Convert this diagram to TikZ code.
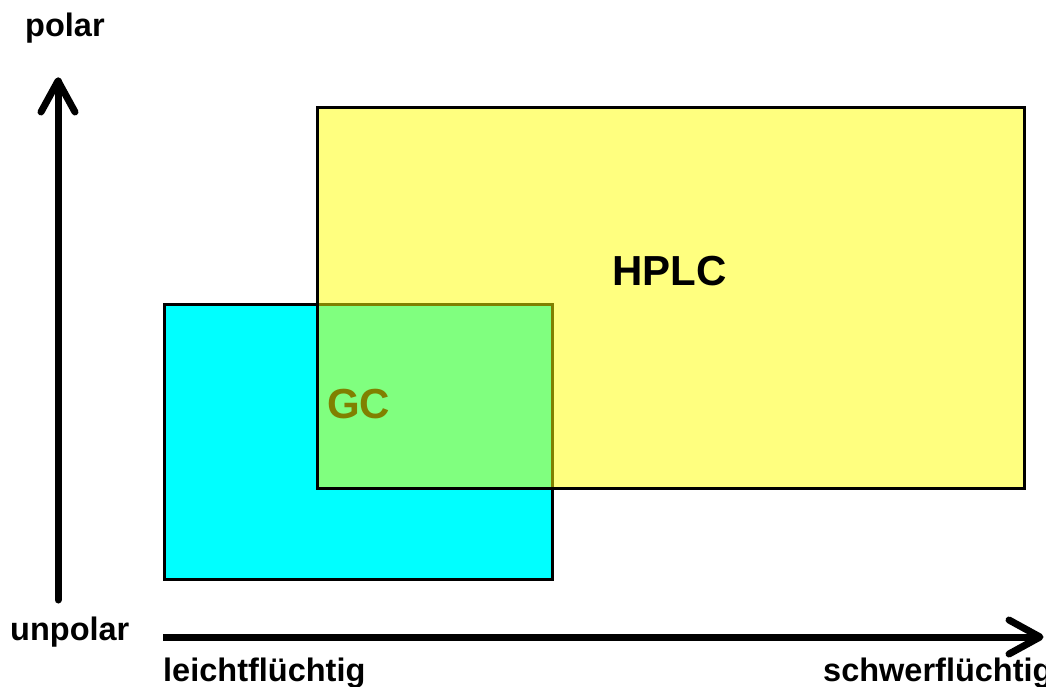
\documentclass[tikz,border=0pt]{standalone}
\usepackage{fontspec}
\setmainfont{Liberation Sans}
\definecolor{gccyan}{RGB}{0,255,255}
\definecolor{hpyellow}{RGB}{255,255,0}
\begin{document}
\begin{tikzpicture}[x=1pt,y=-1pt,
  lbl/.style={font=\fontsize{32.5}{32.5}\selectfont\bfseries, inner sep=0pt},
  big/.style={font=\fontsize{42}{42}\selectfont\bfseries, inner sep=0pt},
  axis/.style={line width=7pt, line cap=round, line join=round},
  region/.style={draw=black, line width=3pt}]
\useasboundingbox (0,0) rectangle (1046,687);
% GC region
\node[region, fill=gccyan, minimum width=388pt, minimum height=275pt, anchor=north west] (gc) at (163,303) {};
\node[big, anchor=base west, text=black] (gct) at (327,418) {GC};
% HPLC region (semi-transparent)
\node[region, fill=hpyellow, fill opacity=0.5, draw opacity=1, minimum width=707pt, minimum height=381pt, anchor=north west] (hplc) at (316,106) {};
\node[big, anchor=base west] (hplct) at (612,285) {HPLC};
% axes
\coordinate (v0) at (58,600);
\coordinate (v1) at (58,81);
\coordinate (vl) at (41,112);
\coordinate (vr) at (75,112);
\draw[axis] (v0) -- (v1);
\draw[axis] (vl) -- (v1) -- (vr);
\coordinate (h0) at (163,637);
\coordinate (h1) at (1040,637);
\coordinate (ht) at (1009,620);
\coordinate (hb) at (1009,654);
\draw[axis, line cap=butt] (h0) -- (h1);
\draw[axis] (ht) -- (h1) -- (hb);
% labels
\node[lbl, anchor=base west] (polar) at (25,37) {polar};
\node[lbl, anchor=base west] (unpolar) at (10,640) {unpolar};
\node[lbl, anchor=base west] (leicht) at (163,681) {leichtflüchtig};
\node[lbl, anchor=base west] (schwer) at (823,681) {schwerflüchtig};
\end{tikzpicture}
\end{document}
